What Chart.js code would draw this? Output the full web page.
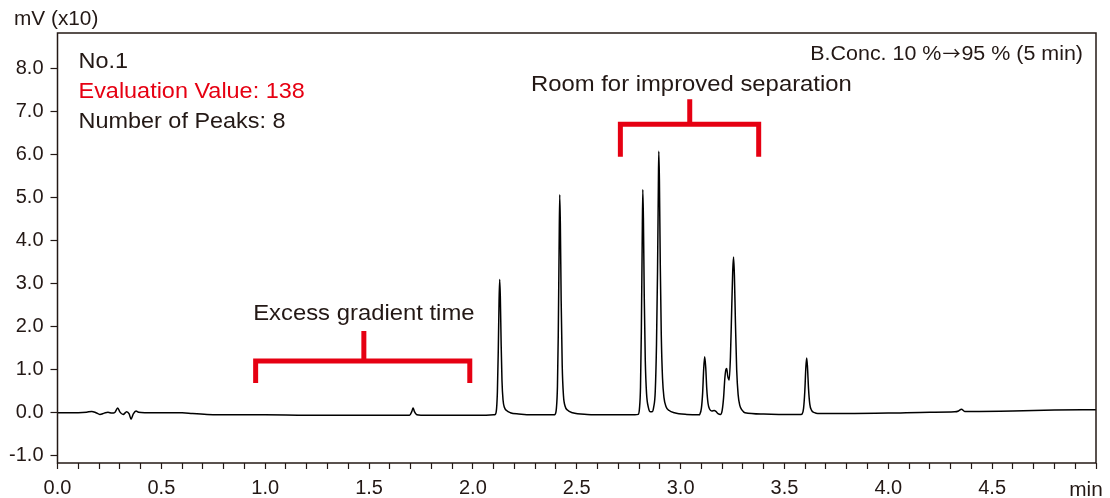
<!DOCTYPE html>
<html>
<head>
<meta charset="utf-8">
<script src="https://cdn.jsdelivr.net/npm/chart.js@4.4.1/dist/chart.umd.min.js"></script>
<style>
  html, body { margin: 0; padding: 0; background: #fff; }
  canvas { display: block; }
</style>
</head>
<body>
<canvas id="chart" width="1110" height="498"></canvas>
<script>
// chromatogram trace (time in min, signal in mV x10)
const EARLY_T = [0.00, 0.05, 0.10, 0.14, 0.165, 0.185, 0.204, 0.225, 0.243, 0.262, 0.275, 0.29, 0.30, 0.316, 0.333, 0.345, 0.354, 0.365, 0.378, 0.39,
                 0.42, 0.50, 0.60, 0.65, 0.72, 0.85, 1.00, 1.20, 1.40, 1.60, 1.695, 1.706, 1.712, 1.718, 1.73, 1.75, 1.90, 2.05, 2.10];
const EARLY_V = [0.00, 0.00, 0.00, 0.01, 0.03, 0.00, -0.04, -0.01, 0.01, -0.01, 0.00, 0.11, 0.02, -0.04, 0.02, -0.03, -0.15, -0.03, 0.04, 0.01,
                 0.00, 0.00, 0.00, -0.02, -0.04, -0.05, -0.05, -0.06, -0.06, -0.06, -0.06, 0.03, 0.11, 0.03, -0.05, -0.06, -0.06, -0.06, -0.05];

const PEAK1_T = [2.108, 2.114, 2.118, 2.122, 2.126, 2.129, 2.132, 2.136, 2.140, 2.145, 2.152, 2.162, 2.18, 2.22, 2.30, 2.39];
const PEAK1_V = [-0.04, 0.10, 0.50, 1.40, 2.60, 3.10, 2.70, 1.60, 0.75, 0.30, 0.12, 0.05, 0.00, -0.03, -0.05, -0.05];

const PEAK2_T = [2.395, 2.402, 2.407, 2.411, 2.415, 2.418, 2.421, 2.425, 2.430, 2.436, 2.444, 2.455, 2.48, 2.55, 2.65, 2.78];
const PEAK2_V = [-0.04, 0.10, 0.60, 1.80, 3.80, 5.07, 4.40, 2.60, 1.10, 0.40, 0.15, 0.06, 0.00, -0.04, -0.05, -0.05];

const PEAK34_T = [2.796, 2.802, 2.807, 2.811, 2.815, 2.818, 2.821, 2.825, 2.830, 2.836, 2.845, 2.855, 2.862, 2.870, 2.878,
                  2.884, 2.889, 2.893, 2.895, 2.898, 2.902, 2.907, 2.913, 2.920, 2.930, 2.945, 2.97, 3.03, 3.09];
const PEAK34_V = [-0.04, 0.10, 0.60, 1.90, 3.90, 5.19, 4.50, 2.70, 1.20, 0.45, 0.12, 0.02, 0.02, 0.12, 0.50,
                  1.60, 3.30, 5.30, 6.08, 5.40, 3.50, 1.80, 0.80, 0.35, 0.14, 0.05, 0.00, -0.04, -0.05];

const PEAK567_T = [3.092, 3.100, 3.106, 3.111, 3.116, 3.121, 3.126, 3.132, 3.140, 3.150, 3.162, 3.170, 3.180, 3.192, 3.200, 3.207, 3.213, 3.218,
                   3.222, 3.227, 3.234, 3.240, 3.246, 3.251, 3.255, 3.259, 3.264, 3.270, 3.277, 3.285, 3.296, 3.31, 3.40, 3.50, 3.58];
const PEAK567_V = [-0.04, 0.10, 0.45, 1.00, 1.30, 1.05, 0.55, 0.22, 0.08, 0.04, 0.05, 0.03, -0.02, -0.04, 0.05, 0.35, 0.80, 1.00,
                   1.03, 0.85, 0.76, 1.30, 2.40, 3.30, 3.62, 3.20, 2.10, 1.00, 0.42, 0.17, 0.06, 0.00, -0.03, -0.04, -0.04];

const LATE_T = [3.585, 3.592, 3.598, 3.603, 3.607, 3.611, 3.616, 3.622, 3.630, 3.645, 3.66, 3.80, 4.00, 4.20, 4.32, 4.338, 4.352, 4.368, 4.40, 4.60, 4.80, 5.00];
const LATE_V = [-0.03, 0.10, 0.50, 1.05, 1.27, 1.05, 0.55, 0.20, 0.06, 0.00, -0.02, -0.02, -0.01, 0.01, 0.02, 0.04, 0.08, 0.03, 0.03, 0.04, 0.06, 0.07];

// red brackets (null breaks the line before the centre stem)
const GRADIENT_BRACKET_X = [0.954, 0.954, 1.985, 1.985, 1.475, 1.475, 1.475];
const GRADIENT_BRACKET_Y = [0.69, 1.20, 1.20, 0.69, null, 1.20, 1.90];
const SEPARATION_BRACKET_X = [2.71, 2.71, 3.376, 3.376, 3.044, 3.044, 3.044];
const SEPARATION_BRACKET_Y = [5.95, 6.71, 6.71, 5.95, null, 6.71, 7.29];

const NOTE_TEXT = ['Excess gradient time', 'Room for improved separation'];
const NOTE_X = [1.475, 3.052];
const NOTE_Y = [2.34, 7.66];

const INFO_LINES = ['No.1', 'Evaluation Value: 138', 'Number of Peaks: 8'];
const CONDITION = ['B.Conc. 10 %', '\u2192', '95 % (5 min)'];

const Y_TICKS = [-1, 0, 1, 2, 3, 4, 5, 6, 7, 8];
const X_LABELS = ['0.0', '0.5', '1.0', '1.5', '2.0', '2.5', '3.0', '3.5', '4.0', '4.5'];

const FONT = "'Liberation Sans', Arial, Helvetica, sans-serif";
const ARROW_FONT = "'Noto Sans CJK JP', 'DejaVu Sans', sans-serif";
const INK = '#231815';
const RED = '#e60012';

const trace = [];
[[EARLY_T, EARLY_V], [PEAK1_T, PEAK1_V], [PEAK2_T, PEAK2_V], [PEAK34_T, PEAK34_V], [PEAK567_T, PEAK567_V], [LATE_T, LATE_V]]
  .forEach(([ts, vs]) => ts.forEach((t, i) => trace.push({ x: t, y: vs[i] })));

const pts = (xs, ys) => xs.map((x, i) => ({ x: x, y: ys[i] }));

// the printed type is a little wider than Liberation Sans, so stretch it sideways
function put(ctx, str, px, py, size, color, align, sx, family) {
  ctx.save();
  ctx.translate(px, py);
  ctx.scale(sx || 1, 1);
  ctx.font = size + 'px ' + (family || FONT);
  ctx.fillStyle = color;
  ctx.textAlign = align || 'left';
  ctx.textBaseline = 'alphabetic';
  ctx.fillText(str, 0, 0);
  ctx.restore();
}

const decor = {
  id: 'decor',
  afterDraw(chart) {
    const { ctx, chartArea: a, scales } = chart;
    ctx.save();
    ctx.strokeStyle = INK;
    ctx.lineWidth = 1.5;
    ctx.strokeRect(a.left, a.top, a.right - a.left, a.bottom - a.top);

    put(ctx, 'mV (x10)', 14, 25, 20, INK, 'left', 1.04);
    put(ctx, 'min', 1086, 496, 20, INK, 'center', 1.04);

    INFO_LINES.forEach((s, i) => put(ctx, s, a.left + 21, 68 + i * 30, 21.5, i === 1 ? RED : INK, 'left', 1.09));

    // condition text, drawn right to left so the arrow can use a wider glyph
    const sx = 1.1;
    let right = 1083;
    ctx.font = '19.5px ' + FONT;
    const w3 = ctx.measureText(CONDITION[2]).width * sx;
    put(ctx, CONDITION[2], right, 60, 19.5, INK, 'right', sx);
    right -= w3 + 1;
    ctx.font = '18px ' + ARROW_FONT;
    const w2 = ctx.measureText(CONDITION[1]).width;
    put(ctx, CONDITION[1], right, 60, 18, INK, 'right', 1, ARROW_FONT);
    right -= w2 + 1;
    put(ctx, CONDITION[0], right, 60, 19.5, INK, 'right', sx);

    NOTE_TEXT.forEach((s, i) => {
      const px = scales.x.getPixelForValue(NOTE_X[i]);
      const py = scales.y.getPixelForValue(NOTE_Y[i]);
      put(ctx, s, px, py + 8, 22.5, INK, 'center', 1.06);
    });
    ctx.restore();
  }
};

new Chart(document.getElementById('chart'), {
  type: 'line',
  data: {
    datasets: [
      {
        data: pts(GRADIENT_BRACKET_X, GRADIENT_BRACKET_Y),
        borderColor: RED, borderWidth: 5, pointRadius: 0,
        borderJoinStyle: 'miter', borderCapStyle: 'butt', tension: 0, spanGaps: false
      },
      {
        data: pts(SEPARATION_BRACKET_X, SEPARATION_BRACKET_Y),
        borderColor: RED, borderWidth: 5, pointRadius: 0,
        borderJoinStyle: 'miter', borderCapStyle: 'butt', tension: 0, spanGaps: false
      },
      {
        data: trace,
        borderColor: '#000', borderWidth: 1.5, pointRadius: 0,
        cubicInterpolationMode: 'monotone'
      }
    ]
  },
  options: {
    responsive: false,
    animation: false,
    devicePixelRatio: 1,
    layout: { padding: { top: 33, right: 14, left: 0, bottom: 0 } },
    plugins: { legend: { display: false }, tooltip: { enabled: false } },
    scales: {
      x: {
        type: 'linear', min: 0, max: 5,
        afterBuildTicks: s => {
          const t = [];
          for (let k = 0; k <= 50; k++) t.push({ value: k / 10 });
          s.ticks = t;
        },
        afterFit: s => { s.height = 35; },
        border: { display: false },
        grid: { drawOnChartArea: false, tickLength: 6, tickColor: INK, tickWidth: 1.2 },
        ticks: {
          autoSkip: false, maxRotation: 0, minRotation: 0, padding: 7,
          color: INK, font: { family: FONT, size: 20 },
          callback: v => {
            const k = Math.round(v * 10);
            return k % 5 === 0 && k < 50 ? X_LABELS[k / 5] : '';
          }
        }
      },
      y: {
        type: 'linear', min: -1.17, max: 8.83,
        afterBuildTicks: s => { s.ticks = Y_TICKS.map(v => ({ value: v })); },
        afterFit: s => { s.width = 57.5; },
        border: { display: false },
        grid: { drawOnChartArea: false, tickLength: 7, tickColor: INK, tickWidth: 1.2 },
        ticks: {
          padding: 7, color: INK, font: { family: FONT, size: 20 },
          callback: v => v.toFixed(1)
        }
      }
    }
  },
  plugins: [decor]
});
</script>
</body>
</html>
